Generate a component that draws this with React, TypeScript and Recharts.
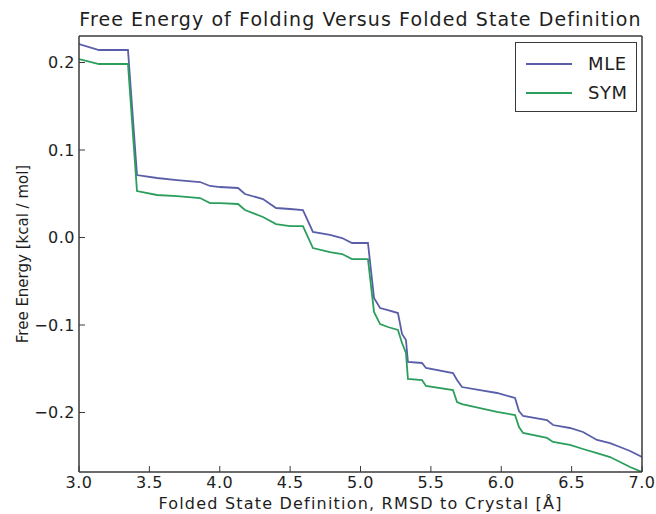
import { LineChart, Line, XAxis, YAxis, Legend } from 'recharts'

document.body.style.margin = '0'

// RMSD cutoff (Å) at each break point of the curves
const rmsd = [
  3.0, 3.142, 3.348, 3.412, 3.554, 3.696, 3.86, 3.931, 4.002, 4.13, 4.179, 4.307,
  4.4, 4.499, 4.591, 4.662, 4.783, 4.869, 4.94, 5.053, 5.096, 5.139, 5.195, 5.266,
  5.295, 5.323, 5.337, 5.437, 5.465, 5.657, 5.686, 5.721, 5.849, 5.97, 6.098, 6.126,
  6.155, 6.325, 6.368, 6.488, 6.581, 6.68, 6.773, 6.844, 6.915, 7.0,
]

const mle = [
  0.2211, 0.2143, 0.2143, 0.0714, 0.068, 0.0657, 0.0634, 0.0589, 0.0577, 0.0566, 0.0497, 0.044,
  0.0337, 0.0326, 0.0314, 0.0063, 0.0029, -0.0006, -0.0063, -0.0063, -0.0691, -0.0806, -0.0829, -0.0863,
  -0.1103, -0.1171, -0.1423, -0.1434, -0.1491, -0.1549, -0.1629, -0.1709, -0.1743, -0.1777, -0.1834, -0.1983,
  -0.204, -0.2086, -0.2143, -0.2177, -0.2223, -0.2314, -0.2349, -0.2394, -0.244, -0.2509,
]

const sym = [
  0.204, 0.1983, 0.1983, 0.0531, 0.0486, 0.0474, 0.0451, 0.0394, 0.0394, 0.0383, 0.0314, 0.0234,
  0.0154, 0.0131, 0.0131, -0.012, -0.0166, -0.0189, -0.0246, -0.0246, -0.0851, -0.0989, -0.1023, -0.1057,
  -0.1206, -0.132, -0.1617, -0.1629, -0.1697, -0.1743, -0.188, -0.1903, -0.1949, -0.1994, -0.2029, -0.2166,
  -0.2234, -0.2291, -0.2337, -0.2371, -0.2417, -0.2463, -0.2509, -0.2566, -0.2623, -0.268,
]

const xTicks = [3.0, 3.5, 4.0, 4.5, 5.0, 5.5, 6.0, 6.5, 7.0]
const yTicks = [-0.2, -0.1, 0.0, 0.1, 0.2]

const data = rmsd.map((x, i) => ({ x, mle: mle[i], sym: sym[i] }))

const FONT = '"DejaVu Sans", sans-serif'
const INK = '#1e1e1e'
const FRAME = '#3a3a3a'

const fmtY = (v: number) => (v < 0 ? '\u2212' : '') + Math.abs(v).toFixed(1)

function renderLegend(props: any) {
  const items = props.payload || []
  return (
    <div
      style={{
        width: 122,
        height: 70,
        boxSizing: 'border-box',
        border: `1.5px solid ${FRAME}`,
        background: '#fff',
        padding: '6px 0 0 10px',
        fontFamily: FONT,
        fontSize: 18,
        color: INK,
      }}
    >
      {items.map((p: any) => (
        <div key={p.value} style={{ display: 'flex', alignItems: 'center', height: 29 }}>
          <svg width={46} height={6} style={{ marginRight: 16 }}>
            <line x1={0} y1={3} x2={46} y2={3} stroke={p.color} strokeWidth={1.8} />
          </svg>
          <span style={{ letterSpacing: 0.6 }}>{p.value}</span>
        </div>
      ))}
    </div>
  )
}

export default function App() {
  const tickStyle = { fontSize: 16, fill: INK, fontFamily: FONT, letterSpacing: 0.5 }
  return (
    <div style={{ fontFamily: FONT }}>
      <LineChart width={656} height={514} data={data} margin={{ top: 0, right: 0, bottom: 0, left: 0 }}>
        <XAxis
          dataKey="x"
          type="number"
          domain={[3, 7]}
          ticks={xTicks}
          tickFormatter={(v: number) => v.toFixed(1)}
          tick={tickStyle}
          tickSize={-6}
          tickMargin={11}
          height={42}
          axisLine={{ stroke: FRAME, strokeWidth: 1.5 }}
          tickLine={{ stroke: FRAME }}
          allowDataOverflow
          label={{
            value: 'Folded State Definition, RMSD to Crystal [Å]',
            position: 'insideBottom',
            offset: 5,
            style: { fontSize: 16, fill: INK, fontFamily: FONT, letterSpacing: 1.2 },
          }}
        />
        <XAxis
          xAxisId="top"
          orientation="top"
          type="number"
          domain={[3, 7]}
          ticks={xTicks}
          tick={false}
          tickSize={-6}
          height={36}
          axisLine={{ stroke: FRAME, strokeWidth: 1.5 }}
          tickLine={{ stroke: FRAME }}
          allowDataOverflow
          label={{
            value: 'Free Energy of Folding Versus Folded State Definition',
            position: 'insideTop',
            offset: 13,
            style: { fontSize: 19, fill: INK, fontFamily: FONT, letterSpacing: 1.1 },
          }}
        />
        <YAxis
          type="number"
          domain={[-0.268, 0.2303]}
          ticks={yTicks}
          tickFormatter={fmtY}
          tick={tickStyle}
          tickSize={-6}
          tickMargin={10}
          width={79}
          axisLine={{ stroke: FRAME, strokeWidth: 1.5 }}
          tickLine={{ stroke: FRAME }}
          allowDataOverflow
          label={{
            value: 'Free Energy [kcal / mol]',
            angle: -90,
            position: 'insideLeft',
            offset: 23,
            style: { textAnchor: 'middle', fontSize: 15, fill: INK, fontFamily: FONT },
          }}
        />
        <YAxis
          yAxisId="right"
          orientation="right"
          type="number"
          domain={[-0.268, 0.2303]}
          ticks={yTicks}
          tick={false}
          tickSize={-6}
          width={14}
          axisLine={{ stroke: FRAME, strokeWidth: 1.5 }}
          tickLine={{ stroke: FRAME }}
          allowDataOverflow
        />
        <Legend
          layout="vertical"
          align="center"
          verticalAlign="middle"
          wrapperStyle={{ top: 42, left: 515, width: 122, height: 70 }}
          content={renderLegend}
        />
        <Line
          type="linear"
          dataKey="mle"
          name="MLE"
          stroke="#5a5ea9"
          strokeWidth={1.8}
          dot={false}
          isAnimationActive={false}
        />
        <Line
          type="linear"
          dataKey="sym"
          name="SYM"
          stroke="#2b9e5c"
          strokeWidth={1.8}
          dot={false}
          isAnimationActive={false}
        />
      </LineChart>
    </div>
  )
}
